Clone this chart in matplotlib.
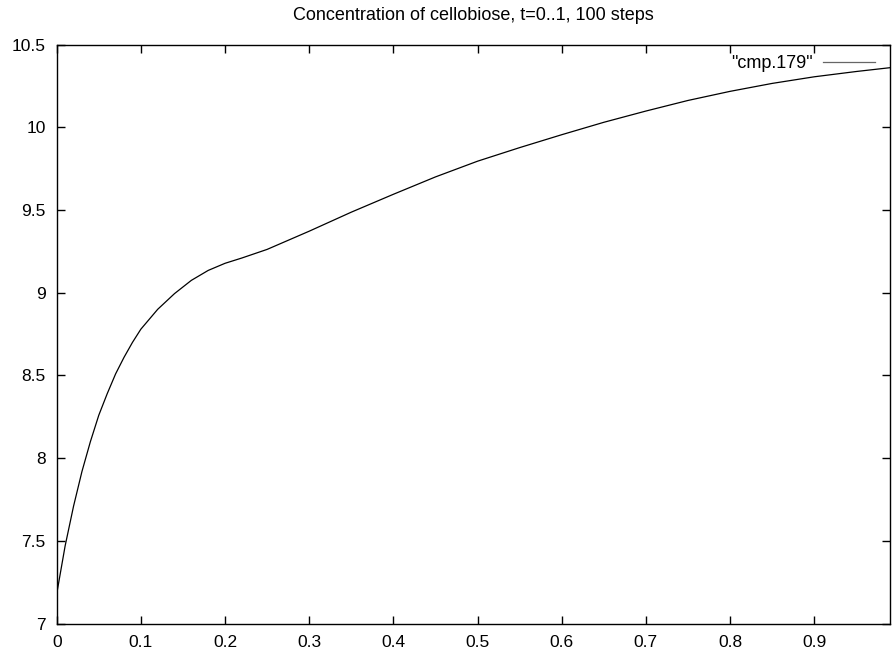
import matplotlib
matplotlib.use('Agg')
import matplotlib.pyplot as plt

plt.rcParams['font.family'] = ['Liberation Sans', 'DejaVu Sans']

# values
t = [0.0, 0.01, 0.02, 0.03, 0.04, 0.05, 0.06, 0.07, 0.08, 0.09, 0.10,
     0.12, 0.14, 0.16, 0.18, 0.20, 0.22, 0.25, 0.30, 0.35, 0.40, 0.45,
     0.50, 0.55, 0.60, 0.65, 0.70, 0.75, 0.80, 0.85, 0.90, 0.95, 0.99]
conc = [7.18, 7.47, 7.71, 7.92, 8.10, 8.26, 8.39, 8.51, 8.61, 8.70, 8.78,
        8.90, 8.995, 9.075, 9.135, 9.178, 9.21, 9.262, 9.372, 9.487, 9.595, 9.70,
        9.795, 9.877, 9.955, 10.03, 10.098, 10.162, 10.217, 10.265, 10.305, 10.337, 10.36]

xticks = [0, 0.1, 0.2, 0.3, 0.4, 0.5, 0.6, 0.7, 0.8, 0.9]
yticks = [7, 7.5, 8, 8.5, 9, 9.5, 10, 10.5]

fig = plt.figure(figsize=(8.93, 6.51), dpi=100)
ax = fig.add_axes([0.0635, 0.0419, 0.9966 - 0.0635, 0.9316 - 0.0419])

ax.plot(t, conc, color='black', lw=0.9, label='"cmp.179"')

ax.set_xlim(0, 0.99)
ax.set_ylim(7, 10.5)
ax.set_xticks(xticks)
ax.set_xticklabels([f'{v:g}' for v in xticks])
ax.set_yticks(yticks)
ax.set_yticklabels([f'{v:g}' for v in yticks])
ax.tick_params(direction='in', length=6, width=1, labelsize=12.5,
               top=True, right=True, pad=8)
for s in ax.spines.values():
    s.set_linewidth(1)

ax.set_title('Concentration of cellobiose, t=0..1, 100 steps', fontsize=13, pad=18)

leg = ax.legend(loc='upper right', markerfirst=False, frameon=False, fontsize=13,
                handlelength=2.9, handletextpad=0.55, borderpad=0, borderaxespad=0,
                bbox_to_anchor=(0.982, 0.9815))
for h in leg.get_lines():
    h.set_color('#666666')

fig.savefig('out.png', dpi=100)
